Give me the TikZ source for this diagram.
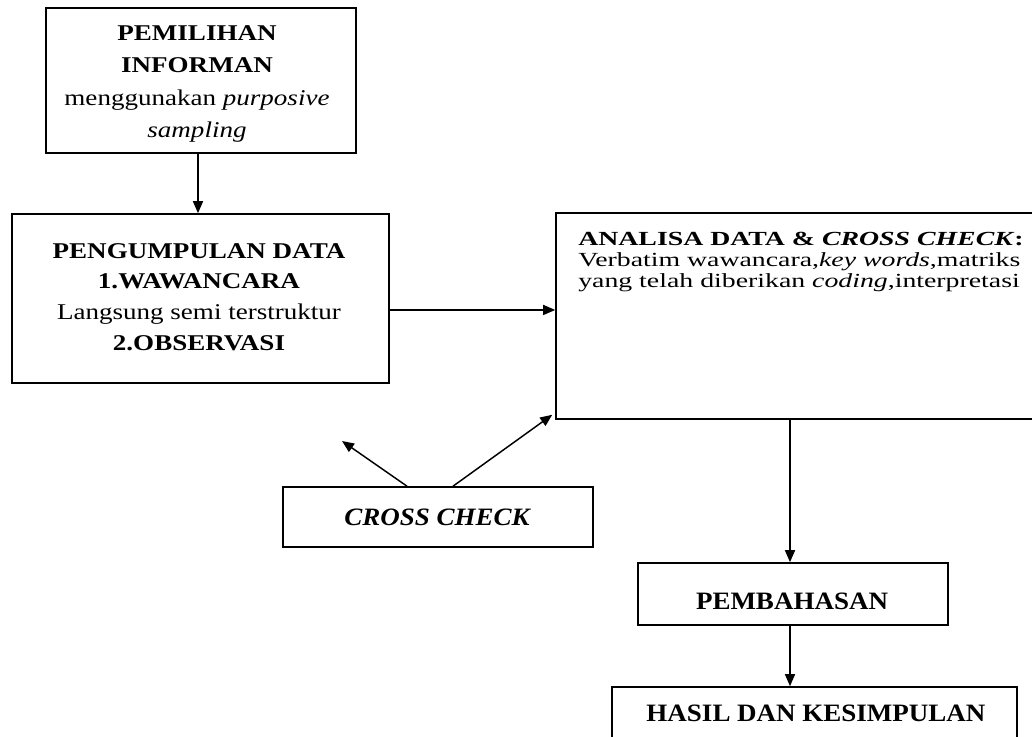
\documentclass[tikz,border=0pt]{standalone}
\usepackage{fontspec}
\setmainfont{Liberation Serif}
\newfontfamily\fa[FakeStretch=1.2]{Liberation Serif}
\newfontfamily\fb[FakeStretch=1.39]{Liberation Serif}
\newfontfamily\fc[FakeStretch=1.08]{Liberation Serif}
\usetikzlibrary{arrows.meta}
\begin{document}
\begin{tikzpicture}[x=0.75pt,y=-0.75pt,
  box/.style={draw, line width=1.2pt, rectangle, inner sep=0pt},
  arr/.style={-{Triangle[length=9pt,width=7.5pt]}, line width=1.1pt},
  txa/.style={font=\fa\fontsize{16.9}{24.4}\selectfont, align=center, inner sep=0pt},
  txb/.style={font=\fb\fontsize{15}{15.6}\selectfont, align=left, inner sep=0pt},
  txc/.style={font=\fc\fontsize{18.75}{22}\selectfont\bfseries, inner sep=0pt}]
\useasboundingbox (0,0) rectangle (1032,737);
\fill[white] (0,0) rectangle (1032,737);
\clip (0,0) rectangle (1032,737);
% boxes
\node[box, minimum width=232.5pt, minimum height=108.75pt] (b1) at (201,80.5) {};
\node[box, minimum width=282.75pt, minimum height=126.75pt] (b2) at (200.5,298.5) {};
\node[box, minimum width=366.75pt, minimum height=154.5pt] (b3) at (800.5,316) {};
\node[box, minimum width=232.5pt, minimum height=45pt] (cc) at (438,517) {};
\node[box, minimum width=232.5pt, minimum height=46.5pt] (pb) at (793,594) {};
\node[box, minimum width=303.75pt, minimum height=54.75pt] (hk) at (814.5,723.5) {};
% texts
\node[txa, anchor=north] (t1) at (197,25) {\textbf{PEMILIHAN}\\\textbf{INFORMAN}\\menggunakan \textit{purposive}\\\textit{sampling}};
\node[txa, anchor=north, font=\fa\fontsize{16.9}{23}\selectfont] (t2) at (199,243) {\textbf{PENGUMPULAN DATA}\\\textbf{1.WAWANCARA}\\Langsung semi terstruktur\\\textbf{2.OBSERVASI}};
\node[txb, anchor=north west] (t3) at (578,232) {\textbf{ANALISA DATA \& \textit{CROSS CHECK}:}\\Verbatim wawancara,\textit{key words},matriks\\yang telah diberikan \textit{coding},interpretasi};
\node[txc] (tcc) at (437,517) {\itshape CROSS CHECK};
\node[txc] (tpb) at (792,601) {PEMBAHASAN};
\node[txc] (thk) at (816,713) {HASIL DAN KESIMPULAN};
% connectors
\coordinate (ccl) at (342,441);
\draw[arr] ([xshift=-2.25pt]b1.south) -- ([xshift=-2.25pt]b1.south |- b2.north);
\draw[arr] ([yshift=-8.6pt]b2.east) -- ([yshift=-8.6pt]b2.east -| b3.west);
\draw[arr] ([xshift=-23.25pt]cc.north) -- (ccl);
\draw[arr] ([xshift=11.25pt]cc.north) -- ([xshift=-2.25pt,yshift=3.75pt]b3.south west);
\draw[arr] ([xshift=-2.25pt]pb.north |- b3.south) -- ([xshift=-2.25pt]pb.north);
\draw[arr] ([xshift=-2.25pt]pb.south) -- ([xshift=-2.25pt]pb.south |- hk.north);
\end{tikzpicture}
\end{document}
